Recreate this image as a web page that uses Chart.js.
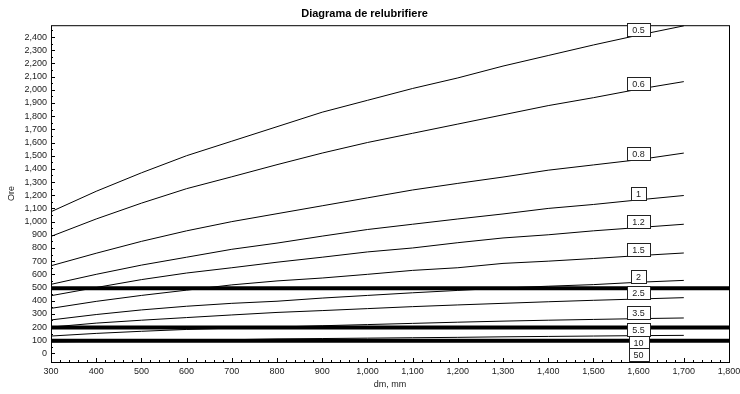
<!DOCTYPE html>
<html>
<head>
<meta charset="utf-8">
<script src="https://cdn.jsdelivr.net/npm/chart.js@4/dist/chart.umd.min.js"></script>
<style>
  html, body { margin: 0; padding: 0; background: #fff; }
  #wrap { width: 740px; height: 394px; }
</style>
</head>
<body>
<div id="wrap"><canvas id="relubChart"></canvas></div>
<script>
// diameter (dm, mm) sample points
const dm = [300, 400, 500, 600, 700, 800, 900, 1000, 1100, 1200, 1300, 1400, 1500, 1600, 1700];

// hours (Ore) per curve
const s05 = [1075, 1230, 1370, 1500, 1610, 1720, 1830, 1920, 2010, 2090, 2180, 2260, 2340, 2415, 2485];
const s06 = [888, 1020, 1140, 1250, 1340, 1432, 1520, 1600, 1670, 1740, 1810, 1880, 1940, 2005, 2062];
const s08 = [665, 760, 850, 930, 1000, 1060, 1120, 1180, 1240, 1290, 1338, 1390, 1430, 1470, 1520];
const s1 = [524, 600, 670, 730, 790, 837, 890, 940, 980, 1020, 1058, 1100, 1130, 1165, 1198];
const s12 = [438, 500, 560, 610, 650, 692, 730, 770, 800, 840, 876, 900, 930, 955, 980];
const s15 = [342, 395, 440, 480, 520, 550, 572, 600, 630, 650, 683, 700, 720, 742, 762];
const s2 = [254, 295, 330, 358, 380, 396, 420, 440, 460, 478, 496, 510, 522, 540, 554];
const s25 = [200, 230, 252, 272, 292, 311, 325, 340, 355, 368, 380, 392, 403, 413, 423];
const s35 = [132, 152, 168, 182, 192, 200, 210, 219, 228, 237, 245, 252, 258, 264, 269];
const s55 = [88, 92, 96, 100, 104, 110, 113, 116, 119, 122, 126, 129, 132, 135, 137];
const s10 = [94, 94, 95, 95, 95, 95, 95, 96, 96, 96, 96, 96, 96, 96, 96];
const s50 = [92, 92, 92, 93, 93, 93, 93, 93, 94, 94, 94, 94, 94, 94, 94];

const curveNames = ['0.5', '0.6', '0.8', '1', '1.2', '1.5', '2', '2.5', '3.5', '5.5', '10', '50'];
const curves = [s05, s06, s08, s1, s12, s15, s2, s25, s35, s55, s10, s50];

// thick horizontal reference lines across the full x range
const refX = [300, 1800];
const refLevels = [495, 197, 96];

const yTicks = [0, 100, 200, 300, 400, 500, 600, 700, 800, 900, 1000, 1100, 1200,
  1300, 1400, 1500, 1600, 1700, 1800, 1900, 2000, 2100, 2200, 2300, 2400];

const labelAt = 1600;
const FONT = '"Liberation Sans", Arial, sans-serif';

const datasets = curves.map((vals, i) => ({
  label: curveNames[i],
  data: dm.map((x, j) => ({ x: x, y: vals[j] })),
  borderColor: '#000',
  borderWidth: 1,
  pointRadius: 0,
  tension: 0,
  fill: false
}));
refLevels.forEach(v => {
  datasets.push({
    label: 'ref',
    data: refX.map(x => ({ x: x, y: v })),
    borderColor: '#000',
    borderWidth: 4,
    pointRadius: 0,
    fill: false
  });
});

const fmt = v => Number(v).toLocaleString('en-US');

// frame + inward tick marks
const framePlugin = {
  id: 'frame',
  afterDatasetsDraw(chart) {
    const { ctx, chartArea: a, scales } = chart;
    ctx.save();
    ctx.strokeStyle = '#000';
    ctx.lineWidth = 1;
    ctx.strokeRect(a.left + 0.5, a.top + 0.5, a.right - a.left, a.bottom - a.top);
    ctx.beginPath();
    for (let v = 300; v <= 1800; v += 20) {
      const x = Math.round(scales.x.getPixelForValue(v)) + 0.5;
      const len = v % 100 === 0 ? 4 : 2;
      ctx.moveTo(x, a.bottom);
      ctx.lineTo(x, a.bottom - len);
    }
    for (let v = 0; v <= 2450; v += 50) {
      const y = Math.round(scales.y.getPixelForValue(v)) + 0.5;
      const len = v % 100 === 0 ? 4 : 2;
      ctx.moveTo(a.left, y);
      ctx.lineTo(a.left + len, y);
    }
    ctx.stroke();
    ctx.restore();
  }
};

// boxed curve labels at x = 1600, stacked so they do not overlap
const boxLabels = {
  id: 'boxLabels',
  afterDatasetsDraw(chart) {
    const { ctx, scales } = chart;
    const idx = dm.indexOf(labelAt);
    const cx = scales.x.getPixelForValue(labelAt);
    const h = 12.5;
    let prevBottom = -Infinity;
    ctx.save();
    ctx.font = '9px ' + FONT;
    ctx.textAlign = 'center';
    ctx.textBaseline = 'middle';
    curves.forEach((vals, i) => {
      let bottom = scales.y.getPixelForValue(vals[idx]);
      bottom = Math.max(bottom, prevBottom + h);
      prevBottom = bottom;
      const w = ctx.measureText(curveNames[i]).width + 10;
      const x0 = Math.round(cx - w / 2) + 0.5;
      const y0 = Math.round(bottom - h) + 0.5;
      ctx.fillStyle = '#fff';
      ctx.fillRect(x0, y0, Math.round(w), Math.round(h));
      ctx.strokeStyle = '#222';
      ctx.lineWidth = 1;
      ctx.strokeRect(x0, y0, Math.round(w), Math.round(h));
      ctx.fillStyle = '#222';
      ctx.fillText(curveNames[i], cx, y0 + h / 2 + 0.5);
    });
    ctx.restore();
  }
};

const config = {
  type: 'line',
  data: { datasets: datasets },
  options: {
    responsive: true,
    maintainAspectRatio: false,
    animation: false,
    layout: { padding: { left: 0, right: 11, top: 0, bottom: 0 } },
    plugins: {
      legend: { display: false },
      tooltip: { enabled: false },
      title: {
        display: true,
        text: 'Diagrama de relubrifiere',
        color: '#000',
        font: { family: FONT, size: 11, weight: 'bold' },
        padding: { top: 7, bottom: 5 }
      }
    },
    scales: {
      x: {
        type: 'linear',
        min: 300,
        max: 1800,
        grid: { display: false, drawTicks: false },
        border: { display: false },
        ticks: {
          stepSize: 100,
          padding: 4,
          color: '#222',
          maxRotation: 0,
          autoSkip: false,
          font: { family: FONT, size: 9 },
          callback: v => fmt(v)
        },
        title: {
          display: true,
          text: 'dm, mm',
          color: '#222',
          font: { family: FONT, size: 9 },
          padding: { top: 0, bottom: 4 }
        },
        afterFit: s => { s.height = 32; s.paddingLeft = 0; s.paddingRight = 0; }
      },
      y: {
        type: 'linear',
        min: -65,
        max: 2490,
        grid: { display: false, drawTicks: false },
        border: { display: false },
        afterBuildTicks: s => { s.ticks = yTicks.map(v => ({ value: v })); },
        ticks: {
          padding: 4,
          color: '#222',
          autoSkip: false,
          font: { family: FONT, size: 9 },
          callback: v => fmt(v)
        },
        title: {
          display: true,
          text: 'Ore',
          color: '#222',
          font: { family: FONT, size: 9 },
          padding: { top: 6, bottom: 0 }
        },
        afterFit: s => { s.width = 51; s.paddingTop = 0; s.paddingBottom = 0; }
      }
    }
  },
  plugins: [framePlugin, boxLabels]
};

const ctx = document.getElementById('relubChart').getContext('2d');
new Chart(ctx, config);
</script>
</body>
</html>
